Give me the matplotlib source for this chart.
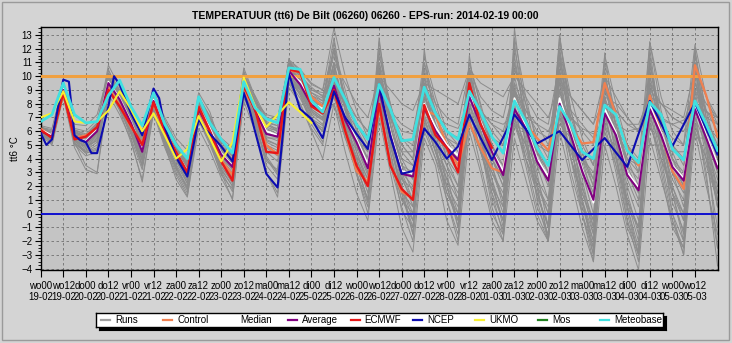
import matplotlib
matplotlib.use("Agg")
import numpy as np
import matplotlib.pyplot as plt
from matplotlib.patches import Rectangle
from matplotlib.ticker import MultipleLocator

plt.rcParams['font.family'] = ['Liberation Sans', 'DejaVu Sans']

# Forecast hours after the run start (6-hourly)
hours = list(range(0, 361, 6))

# Deterministic models and ensemble statistics (tt6, degrees C)
control = [6.2, 5.6, 8.7, 5.5, 5.7, 6.2, 9.2, 7.9, 6.3, 5.1, 8.0, 5.9, 4.4, 3.1, 7.6, 5.8,
           3.9, 2.8, 9.0, 7.5, 5.0, 4.3, 10.4, 10.3, 8.5, 7.8, 8.9, 6.0, 3.1, 2.3, 7.7, 3.6,
           1.6, 1.1, 7.5, 7.2, 5.0, 3.5, 6.6, 4.8, 3.3, 3.0, 8.3, 6.5, 5.5, 4.6, 7.7, 6.3,
           5.1, 5.2, 9.5, 7.2, 4.8, 3.5, 8.6, 5.8, 3.1, 1.8, 10.8, 8.6, 5.6]
median = [6.1, 5.7, 9.1, 5.5, 5.3, 6.1, 9.6, 8.4, 6.7, 4.6, 8.3, 6.1, 4.5, 3.1, 7.8, 6.2,
          4.4, 3.5, 9.6, 7.8, 6.0, 5.7, 10.3, 9.6, 8.1, 7.6, 9.2, 7.0, 5.4, 3.6, 9.2, 5.9,
          3.1, 2.9, 8.0, 6.3, 5.0, 4.2, 8.7, 6.7, 4.6, 3.1, 8.4, 6.4, 4.0, 2.7, 8.4, 5.9,
          3.3, 0.8, 7.6, 5.9, 3.0, 1.9, 7.9, 5.9, 3.5, 2.6, 7.9, 5.7, 3.6]
average = [6.0, 5.6, 9.0, 5.6, 5.2, 6.0, 9.5, 8.3, 6.6, 4.5, 8.2, 6.0, 4.4, 3.0, 7.6, 6.0,
           4.3, 3.4, 9.5, 7.5, 5.8, 5.6, 10.4, 9.4, 7.9, 7.4, 9.3, 6.8, 5.2, 3.3, 9.0, 5.7,
           2.9, 2.7, 7.7, 6.0, 4.8, 3.9, 8.5, 6.5, 4.5, 2.8, 7.6, 6.2, 3.8, 2.4, 8.0, 5.7,
           3.1, 1.0, 7.3, 5.7, 2.8, 1.7, 7.6, 5.7, 3.4, 2.4, 7.6, 5.5, 3.3]
meteobase = [6.7, 7.2, 9.5, 7.2, 6.6, 6.7, 8.6, 9.7, 7.8, 6.4, 8.8, 6.5, 5.0, 4.0, 8.5, 6.6,
             5.4, 4.4, 9.6, 7.7, 6.9, 6.6, 10.6, 10.5, 8.2, 7.4, 9.9, 8.3, 6.5, 5.4, 9.4, 7.6,
             5.3, 5.4, 9.2, 7.3, 6.0, 5.4, 8.9, 7.4, 5.6, 4.4, 8.2, 6.7, 4.8, 3.5, 7.8, 6.5,
             4.5, 4.0, 7.9, 7.2, 4.6, 3.7, 8.1, 7.2, 4.7, 3.9, 8.2, 6.5, 4.6]

# ECMWF runs to +240h, UKMO to +144h
ecmwf_hours = list(range(0, 241, 6))
ecmwf = [6.1, 5.5, 8.8, 5.4, 5.6, 6.3, 9.0, 7.8, 6.4, 5.0, 8.1, 6.0, 4.5, 3.0, 7.8, 6.0,
         3.8, 2.4, 9.3, 7.6, 4.5, 4.4, 10.5, 10.3, 7.8, 7.3, 9.0, 6.0, 3.5, 2.0, 8.0, 3.5,
         1.8, 1.0, 7.9, 5.7, 4.8, 3.0, 9.5, 6.5, 4.8]
ukmo_hours = list(range(0, 145, 6))
ukmo = [7.0, 7.3, 8.9, 6.7, 6.6, 6.7, 7.5, 8.9, 7.6, 6.0, 7.3, 5.7, 4.0, 4.7, 7.1, 5.5,
        3.8, 5.2, 9.9, 7.8, 6.3, 7.2, 8.1, 7.4, 6.6]

# NCEP: 3-hourly at first, 12-hourly after +240h
ncep_hours = [0, 3, 6, 12, 15, 18, 21, 24, 27, 30, 36, 39, 42, 48, 54, 60, 63, 66, 72, 78,
              84, 87, 90, 96, 102, 108, 111, 114, 120, 126, 132, 138, 144, 150, 156, 162,
              168, 174, 180, 186, 192, 198, 204, 210, 216, 222, 228, 234, 240, 252, 264,
              276, 288, 300, 312, 324, 336, 348, 360]
ncep = [5.85, 5.0, 5.4, 9.75, 9.6, 5.7, 5.35, 5.2, 4.4, 4.4, 7.8, 10.0, 9.4, 7.3, 5.7, 9.1,
        8.4, 6.3, 4.1, 2.7, 6.9, 6.2, 5.8, 4.9, 3.8, 8.8, 7.6, 6.0, 2.9, 1.9, 10.2, 7.6,
        6.9, 5.5, 8.9, 7.0, 5.8, 4.7, 9.4, 5.6, 2.9, 3.1, 6.2, 5.2, 4.0, 4.9, 7.2, 5.5,
        3.9, 7.2, 5.1, 6.0, 3.9, 5.5, 3.4, 8.2, 4.9, 8.05, 4.3]

# Ensemble members (6-hourly, +0 .. +360h)
runs = [
    [5.8, 5.2, 8.8, 5.0, 4.2, 4.5, 9.2, 7.8, 5.5, 3.2, 7.6, 5.0, 3.0, 1.5, 7.0, 5.2, 2.8, 1.8, 9.0, 6.8,
     3.5, 2.5, 10.0, 8.6, 6.5, 5.2, 10.5, 6.0, 2.8, 0.5, 9.5, 4.5, 0.2, -1.0, 8.2, 5.0, 1.5, 0.0, 9.0, 5.5,
     1.0, -1.2, 8.8, 5.2, 1.2, -0.8, 9.6, 5.0, 0.5, -2.0, 8.5, 4.2, -0.5, -2.8, 9.2, 4.8, 0.8, -1.2, 10.0, 5.0, 0.5],
    [6.3, 6.0, 9.2, 6.2, 6.0, 6.8, 9.8, 8.8, 7.4, 6.0, 8.8, 7.0, 5.5, 4.6, 8.0, 6.8, 5.5, 4.8, 9.8, 8.2,
     7.2, 7.0, 10.8, 10.0, 9.0, 8.8, 9.6, 8.0, 7.0, 6.0, 8.5, 7.2, 6.0, 5.8, 7.5, 7.0, 6.5, 6.2, 8.0, 7.2,
     6.8, 6.5, 7.2, 7.0, 6.5, 6.0, 7.8, 7.0, 6.2, 5.8, 6.8, 6.5, 6.0, 6.2, 7.0, 6.8, 6.5, 6.8, 8.0, 7.4, 7.0],
    [6.1, 5.4, 9.3, 5.4, 4.8, 5.5, 10.2, 8.9, 6.2, 4.0, 8.5, 5.8, 4.0, 2.2, 8.2, 6.5, 3.8, 2.5, 10.2, 8.0,
     5.0, 4.6, 11.0, 10.2, 8.6, 8.2, 12.8, 8.0, 4.5, 2.0, 12.0, 7.0, 3.5, 1.5, 10.5, 7.5, 4.0, 2.8, 11.0, 7.8,
     3.5, 1.0, 12.8, 8.5, 5.0, 3.5, 11.5, 7.0, 4.5, 2.0, 9.5, 6.5, 3.0, 1.0, 10.5, 6.8, 3.5, 2.0, 11.5, 7.5, 4.5],
    [5.9, 5.5, 8.6, 5.2, 3.5, 3.0, 9.0, 7.5, 5.2, 2.5, 7.5, 5.0, 2.5, 1.2, 6.8, 5.0, 3.0, 1.0, 8.5, 6.5,
     3.0, 1.5, 9.5, 8.0, 6.0, 4.0, 8.0, 4.5, 1.5, -0.5, 7.0, 3.0, -1.0, -2.8, 5.5, 3.5, -0.5, -2.3, 6.0, 3.0,
     -0.5, -2.0, 5.5, 2.5, -0.5, -2.0, 6.0, 2.5, -1.0, -3.5, 5.0, 2.0, -1.5, -4.1, 5.5, 2.5, -0.5, -3.0, 6.0, 2.0, -1.5],
    [6.2, 5.8, 9.6, 6.0, 5.6, 6.4, 10.8, 9.2, 7.0, 5.0, 9.0, 6.5, 4.8, 3.5, 8.5, 7.0, 5.0, 4.2, 10.6, 8.5,
     6.5, 6.0, 11.2, 10.5, 9.5, 9.0, 13.5, 10.0, 7.5, 5.5, 11.0, 8.0, 4.5, 3.5, 9.0, 7.0, 5.5, 4.5, 10.0, 7.5,
     5.0, 3.5, 10.5, 8.0, 5.5, 4.0, 12.5, 8.5, 5.5, 3.5, 11.5, 8.0, 5.0, 3.5, 12.5, 8.5, 6.0, 5.0, 12.3, 8.5, 6.5],
    [5.7, 5.0, 8.5, 4.8, 3.2, 2.9, 8.7, 7.2, 5.4, 2.3, 7.3, 4.8, 2.8, 1.3, 6.2, 4.6, 2.6, 1.1, 8.2, 6.0,
     3.0, 1.2, 9.2, 8.0, 6.2, 5.0, 10.0, 6.2, 3.0, 0.8, 8.0, 4.0, 1.0, 0.0, 6.8, 4.5, 2.5, 1.0, 7.5, 4.5,
     2.0, 0.5, 6.5, 4.0, 2.0, 0.0, 7.0, 4.0, 1.5, -0.5, 6.0, 3.5, 1.0, -1.0, 6.5, 4.0, 1.5, 0.0, 6.5, 3.5, 1.0],
    [6.4, 6.2, 9.4, 6.5, 6.4, 7.2, 10.2, 9.5, 7.6, 5.5, 8.6, 6.8, 5.2, 4.0, 8.8, 7.4, 4.8, 4.5, 10.0, 8.6,
     7.0, 6.8, 10.9, 10.0, 9.2, 8.5, 11.5, 8.5, 6.5, 5.0, 10.5, 7.5, 5.5, 5.0, 11.5, 8.5, 6.0, 5.5, 9.0, 7.5,
     6.0, 5.0, 9.5, 7.5, 6.0, 5.5, 10.0, 7.5, 6.5, 5.5, 9.0, 7.5, 6.5, 6.0, 9.5, 8.0, 7.0, 6.5, 9.5, 8.0, 7.0],
    [6.0, 5.6, 9.1, 5.5, 5.0, 5.8, 9.4, 8.1, 6.4, 4.4, 8.0, 5.8, 4.2, 2.8, 7.4, 5.8, 4.0, 3.0, 9.4, 7.3,
     5.4, 5.0, 10.4, 9.2, 7.8, 7.2, 9.0, 6.5, 5.0, 3.0, 9.2, 5.5, 2.5, 1.8, 7.2, 5.2, 3.5, 2.0, 8.0, 5.5,
     3.0, 1.5, 7.0, 5.0, 2.5, 1.0, 7.5, 4.5, 2.0, -0.5, 7.5, 5.0, 2.5, 0.5, 8.0, 5.0, 2.5, 1.0, 8.5, 5.0, 2.5],
    [6.1, 5.3, 9.5, 5.3, 4.5, 4.8, 10.5, 8.6, 6.0, 3.5, 8.8, 5.5, 3.5, 1.8, 8.0, 5.5, 3.2, 2.0, 10.3, 7.2,
     4.2, 3.0, 11.3, 9.0, 7.0, 6.0, 12.5, 7.5, 3.5, 1.0, 12.8, 6.5, 2.0, -1.5, 12.0, 6.0, 2.0, -0.5, 11.5, 6.0,
     1.5, -1.5, 13.5, 7.0, 2.0, -1.8, 13.0, 6.5, 1.0, -3.0, 11.7, 6.0, 0.5, -2.5, 12.0, 6.0, 1.5, -2.0, 11.8, 6.0, 1.0],
    [5.9, 5.7, 8.9, 5.9, 5.5, 6.5, 9.0, 8.0, 6.8, 5.5, 8.3, 6.5, 5.0, 3.8, 7.8, 6.5, 5.0, 4.0, 9.0, 7.0,
     6.0, 6.2, 10.0, 9.0, 8.0, 7.5, 8.5, 6.5, 5.5, 4.5, 7.5, 6.0, 4.5, 4.5, 6.5, 6.0, 5.5, 5.0, 7.0, 6.5,
     5.5, 5.0, 6.5, 6.0, 4.5, 3.5, 6.5, 5.5, 4.0, 3.0, 5.5, 5.0, 4.0, 3.5, 5.0, 5.0, 4.5, 4.5, 5.5, 5.5, 5.0],
    [6.0, 5.5, 9.0, 5.7, 5.3, 6.2, 9.9, 8.6, 6.9, 4.8, 8.4, 6.2, 4.5, 2.5, 7.2, 5.5, 3.8, 2.8, 9.2, 7.0,
     5.5, 5.5, 10.2, 9.0, 7.5, 6.8, 8.0, 5.5, 4.0, 2.0, 8.5, 5.0, 2.0, -0.5, 6.0, 4.0, 2.0, 0.5, 9.5, 6.5,
     4.0, 2.5, 8.5, 6.0, 3.0, -1.0, 9.0, 5.5, 2.0, -1.5, 6.5, 4.5, 3.0, 1.5, 8.5, 5.5, 4.0, 2.0, 7.0, 5.0, 2.0],
    [6.2, 5.9, 9.2, 5.8, 5.4, 6.3, 9.6, 8.4, 6.7, 4.6, 8.2, 6.1, 4.6, 3.2, 7.9, 6.3, 4.6, 3.8, 9.7, 7.8,
     6.2, 5.8, 10.6, 9.6, 8.2, 7.8, 10.8, 7.5, 5.8, 4.0, 10.0, 6.5, 3.5, 3.0, 8.5, 6.5, 5.0, 4.0, 10.5, 7.0,
     5.0, 3.0, 11.0, 7.0, 4.5, 3.0, 9.0, 6.0, 3.5, 1.5, 10.0, 6.5, 3.5, 2.5, 11.0, 7.0, 4.0, 3.0, 10.5, 6.5, 4.0],
    [5.8, 5.1, 8.7, 5.1, 4.5, 5.0, 9.3, 7.9, 6.3, 4.2, 7.8, 5.6, 3.8, 2.4, 7.0, 5.4, 3.5, 2.2, 8.8, 6.8,
     4.5, 3.8, 9.8, 9.0, 7.2, 6.5, 9.2, 6.0, 4.0, 1.5, 9.0, 5.0, 1.5, 0.5, 7.0, 4.5, 3.0, 1.5, 6.5, 4.5,
     3.0, 1.0, 7.5, 4.5, 2.0, 0.5, 8.0, 4.0, 1.0, -2.5, 7.0, 4.0, 0.5, -1.0, 9.0, 4.5, 1.5, -0.5, 9.0, 4.5, 0.5],
    [6.3, 6.1, 9.3, 6.1, 5.8, 6.6, 10.0, 8.7, 7.2, 5.3, 8.6, 6.5, 5.0, 3.6, 7.7, 6.4, 4.4, 3.7, 9.9, 7.9,
     6.4, 6.2, 10.7, 9.8, 8.6, 8.0, 11.0, 9.5, 8.0, 7.0, 10.0, 9.0, 8.0, 7.5, 9.5, 9.0, 8.5, 8.0, 10.5, 9.5,
     9.0, 8.5, 10.0, 9.0, 8.0, 7.0, 9.5, 8.5, 7.5, 6.5, 8.5, 8.0, 7.0, 6.0, 7.5, 7.0, 6.5, 6.0, 7.5, 7.0, 6.5],
    [5.9, 5.4, 8.8, 5.3, 4.9, 5.6, 9.6, 8.2, 6.5, 4.3, 8.1, 5.9, 4.1, 2.9, 7.5, 5.9, 4.1, 3.2, 9.3, 7.2,
     5.2, 4.8, 10.2, 9.3, 7.6, 7.0, 9.5, 7.0, 5.0, 3.5, 11.0, 6.5, 3.0, 1.0, 10.0, 6.5, 4.0, 2.0, 9.5, 6.0,
     3.5, 0.5, 10.0, 6.5, 3.5, 1.0, 11.0, 6.5, 3.0, 0.0, 8.0, 5.5, 2.0, -0.5, 7.0, 5.0, 3.0, 1.5, 8.0, 5.5, 3.0],
    [6.1, 5.7, 9.0, 5.6, 5.1, 5.9, 9.5, 8.3, 6.6, 4.6, 8.3, 6.0, 4.4, 3.1, 7.6, 6.1, 4.3, 3.5, 9.6, 7.6,
     5.9, 5.7, 10.5, 9.5, 8.0, 7.6, 9.4, 7.0, 5.5, 3.8, 8.0, 5.5, 3.0, 2.0, 8.0, 6.0, 5.0, 4.0, 8.0, 6.0,
     4.0, 2.0, 6.5, 5.0, 3.5, 2.5, 6.0, 5.0, 4.0, 2.5, 7.0, 6.0, 5.0, 4.0, 7.5, 6.0, 3.0, 0.5, 6.0, 4.0, 1.5],
    [6.0, 5.5, 9.2, 5.9, 5.5, 6.1, 9.7, 8.5, 6.8, 4.7, 8.5, 6.3, 4.7, 3.3, 8.2, 6.6, 4.7, 3.9, 9.8, 8.0,
     6.6, 6.4, 10.8, 10.0, 8.8, 8.4, 12.0, 9.0, 6.0, 4.5, 11.5, 8.0, 5.0, 4.0, 11.0, 8.0, 5.5, 3.5, 11.0, 8.0,
     5.0, 2.5, 12.0, 8.0, 4.0, 2.0, 12.0, 7.5, 4.5, 2.5, 10.0, 7.0, 5.0, 3.0, 10.0, 7.0, 5.0, 3.5, 11.0, 7.0, 5.0],
    [5.8, 5.3, 8.9, 5.4, 4.9, 5.3, 9.1, 7.7, 6.0, 3.8, 7.7, 5.2, 3.3, 1.9, 7.3, 5.6, 3.9, 2.6, 8.9, 6.9,
     4.9, 4.4, 10.0, 8.8, 7.3, 6.8, 10.2, 6.5, 4.5, 2.5, 9.8, 5.5, 2.5, 1.0, 9.0, 5.5, 2.5, 0.0, 10.0, 5.5,
     2.0, -0.5, 9.0, 5.5, 2.0, -2.0, 10.5, 5.0, 2.5, -1.0, 9.5, 5.5, 1.0, -2.0, 10.0, 5.0, 1.5, -1.5, 10.5, 5.5, 0.5],
    [6.2, 5.7, 9.1, 5.7, 5.2, 6.0, 9.8, 8.6, 6.9, 5.0, 8.7, 6.6, 4.9, 3.7, 8.3, 6.8, 5.2, 4.3, 10.1, 8.2,
     6.6, 6.1, 11.0, 10.2, 9.0, 8.6, 10.0, 7.6, 6.2, 4.6, 8.5, 6.0, 4.0, 3.5, 7.5, 6.0, 5.0, 3.5, 7.0, 5.5,
     4.5, 3.5, 8.5, 6.0, 5.0, 4.5, 9.0, 6.5, 5.0, 3.5, 8.0, 6.0, 4.0, 3.0, 9.5, 6.5, 5.0, 4.0, 9.0, 6.5, 5.5],
    [6.0, 5.6, 8.8, 5.5, 5.0, 5.7, 9.3, 8.0, 6.4, 4.5, 7.9, 5.7, 4.3, 2.7, 7.1, 5.6, 4.2, 3.3, 9.0, 7.1,
     5.3, 5.0, 10.1, 9.1, 7.6, 7.0, 9.8, 6.3, 4.2, 2.5, 10.0, 5.0, 1.5, -1.5, 9.0, 5.0, 3.0, -1.0, 9.0, 5.5,
     2.5, -1.0, 9.5, 5.0, 1.5, -1.0, 10.0, 5.0, 1.0, -2.0, 8.5, 4.5, 0.0, -3.0, 8.0, 4.0, 0.0, -2.0, 8.5, 4.0, -1.0],
    [6.3, 5.9, 9.7, 6.1, 5.7, 6.5, 10.4, 9.0, 7.1, 5.2, 9.0, 6.8, 5.1, 3.9, 8.5, 7.1, 5.3, 4.5, 10.4, 8.4,
     6.9, 6.6, 11.1, 10.4, 9.4, 9.0, 11.8, 8.5, 7.0, 6.0, 9.5, 7.0, 5.5, 4.5, 8.5, 7.0, 6.0, 5.0, 9.0, 7.5,
     6.5, 6.0, 9.0, 7.5, 6.5, 5.0, 8.5, 7.0, 6.0, 5.0, 9.5, 7.5, 6.5, 6.5, 8.5, 8.0, 7.5, 7.0, 10.5, 8.5, 7.0],
    [5.9, 5.2, 8.6, 5.1, 4.6, 5.2, 9.0, 7.6, 5.8, 3.6, 7.5, 5.3, 3.6, 2.2, 6.8, 5.2, 3.4, 2.4, 8.7, 6.5,
     4.0, 2.8, 9.6, 8.4, 6.8, 6.2, 9.0, 5.5, 3.5, 1.0, 8.5, 4.5, 1.0, -0.5, 8.0, 4.5, 1.5, -0.5, 7.5, 4.5,
     1.5, -0.5, 8.0, 4.0, 0.5, -1.5, 8.5, 4.0, 0.0, -2.5, 7.5, 3.5, -0.5, -3.5, 7.5, 3.5, -0.5, -2.5, 7.0, 3.0, -3.8],
    [6.0, 5.4, 9.0, 5.3, 4.7, 5.4, 9.4, 8.0, 6.2, 4.0, 8.0, 5.6, 3.9, 2.6, 7.3, 5.7, 3.7, 2.7, 9.1, 7.0,
     4.8, 4.2, 10.1, 9.1, 7.4, 6.9, 10.5, 6.8, 4.8, 2.8, 10.5, 6.0, 2.8, 0.5, 9.5, 6.0, 3.5, 1.0, 10.5, 6.0,
     2.5, 0.0, 11.5, 6.5, 2.5, 0.0, 11.5, 6.0, 1.5, -1.0, 10.5, 5.5, 1.5, -1.5, 11.0, 6.0, 2.0, -0.5, 11.0, 6.0, 1.5],
    [6.1, 5.8, 9.3, 5.9, 5.6, 6.4, 9.9, 8.7, 6.9, 4.9, 8.6, 6.4, 4.8, 3.4, 8.1, 6.5, 4.8, 4.0, 9.9, 8.0,
     6.3, 6.0, 10.7, 9.7, 8.3, 7.9, 11.0, 7.5, 5.5, 3.5, 9.0, 6.0, 3.5, 2.5, 8.5, 6.5, 4.5, 3.0, 9.5, 6.5,
     4.0, 2.5, 9.0, 6.5, 4.5, 3.0, 10.5, 6.5, 3.5, 1.0, 9.0, 6.5, 4.0, 2.0, 9.5, 6.5, 4.0, 2.5, 9.5, 6.5, 4.0],
    [5.9, 5.3, 8.7, 5.2, 4.4, 4.7, 9.2, 7.7, 5.9, 3.9, 7.7, 5.4, 3.4, 2.0, 6.9, 5.3, 3.1, 1.6, 8.6, 6.6,
     3.8, 3.2, 9.7, 8.7, 6.9, 6.4, 8.5, 5.5, 3.0, 0.0, 7.5, 3.5, 0.5, -2.0, 6.5, 4.0, 1.0, -1.5, 7.0, 3.5,
     0.0, -1.5, 7.0, 3.5, 0.0, -2.0, 7.5, 3.0, 0.0, -3.0, 6.5, 3.0, -1.0, -3.0, 7.0, 3.0, -1.0, -2.5, 7.5, 2.5, -2.5],
    [6.2, 5.7, 9.4, 5.8, 5.3, 6.1, 9.9, 8.5, 6.7, 4.8, 8.6, 6.2, 4.6, 3.4, 8.0, 6.4, 4.5, 3.6, 9.9, 7.8,
     6.0, 5.7, 10.7, 9.7, 8.3, 7.8, 12.0, 8.0, 5.5, 4.0, 12.5, 7.5, 4.0, 2.5, 11.0, 7.0, 5.0, 3.0, 10.5, 7.0,
     4.0, 2.0, 11.0, 7.0, 4.5, 2.5, 13.0, 7.5, 4.0, 1.0, 11.0, 7.0, 3.5, 1.5, 12.5, 7.5, 4.5, 2.5, 12.0, 7.0, 4.0],
    [6.0, 5.5, 8.9, 5.6, 5.2, 5.9, 9.5, 8.2, 6.5, 4.4, 8.1, 5.9, 4.3, 2.9, 7.5, 5.9, 4.2, 3.2, 9.4, 7.4,
     5.6, 5.3, 10.3, 9.3, 7.8, 7.3, 9.0, 6.0, 4.0, 2.0, 8.5, 5.0, 2.0, 0.0, 7.0, 4.5, 2.0, -1.0, 8.0, 4.5,
     2.0, -0.5, 7.0, 4.0, 1.5, -1.0, 7.5, 4.0, 1.0, -1.5, 7.0, 4.0, 1.0, -1.0, 6.5, 4.0, 2.0, 0.0, 6.5, 4.0, 1.0],
    [6.1, 5.6, 9.0, 5.6, 5.2, 6.0, 9.6, 8.4, 6.6, 4.5, 8.3, 6.1, 4.5, 3.0, 7.6, 6.1, 4.4, 3.5, 9.5, 7.6,
     5.8, 5.6, 10.5, 9.5, 8.0, 7.5, 9.5, 7.0, 5.5, 4.0, 10.0, 7.0, 5.0, 4.0, 9.5, 7.5, 6.0, 5.5, 8.5, 7.5,
     6.5, 5.5, 9.0, 7.0, 5.0, 3.0, 8.0, 6.0, 4.0, 2.0, 8.5, 6.0, 4.5, 3.5, 8.0, 6.5, 5.5, 5.0, 9.5, 7.5, 6.0],
    [5.8, 5.2, 8.6, 5.1, 4.4, 4.6, 9.1, 7.6, 5.8, 3.4, 7.6, 5.1, 3.2, 1.7, 7.1, 5.3, 3.3, 2.0, 8.8, 6.6,
     4.0, 3.0, 9.8, 8.8, 6.7, 6.0, 11.0, 6.5, 3.5, 1.0, 11.0, 5.5, 1.5, -1.0, 10.0, 5.0, 1.0, -2.0, 10.0, 5.0,
     0.5, -2.0, 12.5, 6.0, 1.0, -2.0, 12.0, 5.5, 0.0, -3.5, 10.0, 5.0, 0.5, -3.0, 11.5, 5.5, 0.0, -3.0, 11.0, 5.0, -2.5],
    [6.3, 5.9, 9.5, 6.0, 5.6, 6.5, 10.1, 8.9, 7.0, 5.1, 8.7, 6.6, 4.9, 3.6, 8.2, 6.7, 4.9, 4.2, 10.2, 8.2,
     6.7, 6.4, 10.9, 10.1, 8.8, 8.2, 10.0, 7.8, 6.5, 5.5, 9.5, 7.5, 6.5, 6.0, 10.0, 8.0, 7.0, 6.5, 10.5, 8.5,
     7.5, 7.0, 10.5, 8.5, 7.0, 6.5, 11.0, 8.5, 7.5, 6.5, 10.0, 8.5, 7.0, 6.0, 9.0, 8.0, 7.0, 6.5, 9.0, 7.5, 6.5],
]

# Reference levels
upper_ref = 10
lower_ref = 0

tick_hours = list(range(0, 349, 12))
tick_labels = ["wo00\n19-02", "wo12\n19-02", "do00\n20-02", "do12\n20-02", "vr00\n21-02",
               "vr12\n21-02", "za00\n22-02", "za12\n22-02", "zo00\n23-02", "zo12\n23-02",
               "ma00\n24-02", "ma12\n24-02", "di00\n25-02", "di12\n25-02", "wo00\n26-02",
               "wo12\n26-02", "do00\n27-02", "do12\n27-02", "vr00\n28-02", "vr12\n28-02",
               "za00\n01-03", "za12\n01-03", "zo00\n02-03", "zo12\n02-03", "ma00\n03-03",
               "ma12\n03-03", "di00\n04-03", "di12\n04-03", "wo00\n05-03", "wo12\n05-03"]

W, H = 732, 343
fig = plt.figure(figsize=(W / 100, H / 100), dpi=100, facecolor='#d4d4d4')
ax = fig.add_axes([40.7 / W, 1 - 270 / H, (717.5 - 40.7) / W, (270 - 26.7) / H])
ax.set_facecolor('#c4c4c4')

for r in runs:
    ax.plot(hours, r, color='#8c8c8c', lw=0.7, zorder=2)

ax.axhline(upper_ref, color='#f0a040', lw=2.2, zorder=3)
ax.axhline(lower_ref, color='#1010d0', lw=1.4, zorder=3)

ax.plot(hours, control, color='#f08050', lw=1.6, zorder=4)
ax.plot(hours, median, color='white', lw=1.3, zorder=5)
ax.plot(hours, average, color='#800080', lw=1.5, zorder=5)
ax.plot(ecmwf_hours, ecmwf, color='#e81818', lw=1.7, zorder=6)
ax.plot(ncep_hours, ncep, color='#0c0cb0', lw=1.5, zorder=7)
ax.plot(ukmo_hours, ukmo, color='#f8f030', lw=1.5, zorder=7)
ax.plot(hours, meteobase, color='#40e0e0', lw=2.0, zorder=8)

ax.set_xlim(0, 360)
ax.set_ylim(-4.1, 13.6)
ax.set_xticks(tick_hours)
ax.set_xticklabels(tick_labels, fontsize=7, linespacing=1.1)
ax.set_yticks(range(-4, 14))
ax.yaxis.set_minor_locator(MultipleLocator(0.25))
ax.tick_params(axis='y', labelsize=7, length=4, pad=2)
ax.tick_params(axis='y', which='minor', length=2)
ax.tick_params(axis='x', length=5, pad=3)
ax.grid(True, color='#707070', lw=0.6, linestyle=(0, (3, 3)))
ax.set_axisbelow(True)
for s in ax.spines.values():
    s.set_color('black')
    s.set_linewidth(1.0)

ax.set_ylabel("tt6 °C", fontsize=7, labelpad=1)
fig.text(365 / W, 1 - 16 / H,
         "TEMPERATUUR (tt6) De Bilt (06260) 06260 - EPS-run: 2014-02-19 00:00",
         ha='center', va='center', fontsize=7.5, fontweight='bold')

# Legend box with drop shadow
lx, ly, lw_, lh = 96, 312.7, 567, 14
shadow = fig.add_axes([(lx + 3) / W, 1 - (ly + lh + 3) / H, lw_ / W, lh / H])
shadow.set_facecolor('black')
shadow.set_xticks([])
shadow.set_yticks([])
shadow.set_zorder(4)
lax = fig.add_axes([lx / W, 1 - (ly + lh) / H, lw_ / W, lh / H])
lax.set_zorder(5)
lax.set_xlim(0, lw_)
lax.set_ylim(0, lh)
lax.set_facecolor('white')
lax.set_xticks([])
lax.set_yticks([])
for s in lax.spines.values():
    s.set_color('black')
    s.set_linewidth(1.0)

legend_names = ["Runs", "Control", "Median", "Average", "ECMWF", "NCEP", "UKMO", "Mos", "Meteobase"]
legend_colors = ['#a0a0a0', '#f08050', 'white', '#800080', '#e81818', '#0c0cb0', '#f8f030',
                 '#208020', '#40e0e0']
for i, (name, c) in enumerate(zip(legend_names, legend_colors)):
    x0 = 5 + 62.4 * i
    lax.plot([x0, x0 + 9], [lh / 2, lh / 2], color=c, lw=1.6)
    lax.text(x0 + 14, lh / 2, name, fontsize=7, va='center', ha='left')

# Panel border
fig.patches.append(Rectangle((2 / W, 3 / H), 727 / W, 338 / H, transform=fig.transFigure,
                             facecolor='none', edgecolor='#9a9a9a', lw=1.0))

fig.savefig("out.png", dpi=100, facecolor=fig.get_facecolor())
